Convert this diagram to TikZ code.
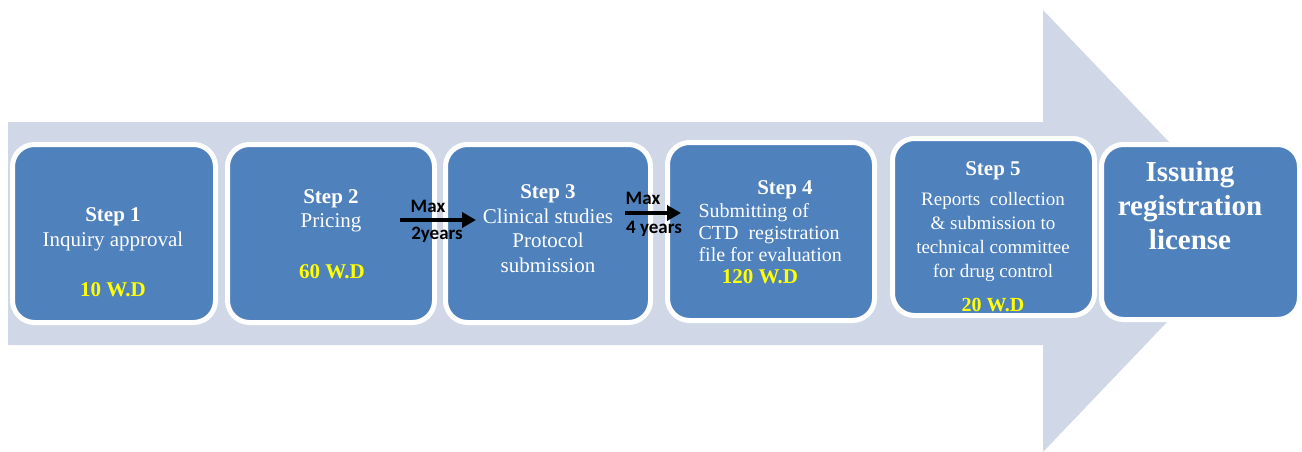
\documentclass[tikz,border=0pt]{standalone}
\usepackage{fontspec}
\setmainfont{Liberation Serif}
\newfontfamily\maxfont{Carlito}
\usetikzlibrary{arrows.meta}

\definecolor{stepblue}{HTML}{4F81BD}
\definecolor{arrowgray}{HTML}{D0D8E8}
\definecolor{wdyellow}{HTML}{FFFF00}

\tikzset{
  stepbox/.style={draw=white, line width=5pt, fill=stepblue, rounded corners=22pt,
    minimum width=#1, minimum height=178pt, inner sep=0pt, outer sep=0pt},
  steptext/.style={text=white, align=center, font=\fontsize{21}{24.5}\selectfont},
  wd/.style={text=wdyellow, font=\fontsize{21}{24}\selectfont\bfseries},
  maxlabel/.style={font=\maxfont\fontsize{19}{20}\selectfont\bfseries},
  maxarrow/.style={line width=4pt, -{Triangle[length=14pt,width=15pt]}},
}

\begin{document}
\begin{tikzpicture}[x=1pt,y=-1pt]
\useasboundingbox (0,0) rectangle (1302,452);

% big background arrow
\fill [arrowgray] (8,122) -- (1043,122) -- (1043,10) -- (1254,231)
  -- (1043,452) -- (1043,345) -- (8,345) -- cycle;

% boxes
\node [stepbox=203pt] (step1) at (114,233.5) {};
\node [stepbox=207pt] (step2) at (331,233.5) {};
\node [stepbox=205pt] (step3) at (548,233.5) {};
\node [stepbox=207pt] (step4) at (771,231.5) {};
\node [stepbox=202pt, minimum height=177pt] (step5) at (993.5,227) {};
\node [stepbox=198pt, minimum height=175pt] (issue) at (1200.5,232) {};

% Step 1
\node [steptext] (s1text) at (113,229.5) {\textbf{Step 1}\\Inquiry approval};
\node [wd] (s1wd) at (113,290) {10 W.D};

% Step 2
\node [steptext] (s2text) at (331,211) {\textbf{Step 2}\\Pricing};
\node [wd] (s2wd) at (332,272) {60 W.D};

% Step 3
\node [steptext] (s3text) at (548,228.5) {\textbf{Step 3}\\Clinical studies\\Protocol\\submission};

% Step 4
\node [steptext] (s4title) at (785,190) {\textbf{Step 4}};
\node [steptext, align=left, anchor=west, font=\fontsize{20}{22}\selectfont]
  (s4text) at (695,233) {Submitting of\\CTD~ registration\\file for evaluation};
\node [wd] (s4wd) at (760,277) {120 W.D};

% Step 5
\node [steptext] (s5title) at (993,171) {\textbf{Step 5}};
\node [steptext, font=\fontsize{19}{24}\selectfont] (s5text) at (993,237)
  {Reports~ collection\\\& submission to\\technical committee\\for drug control};
\node [wd, font=\fontsize{20}{24}\selectfont\bfseries] (s5wd) at (993,305) {20 W.D};

% last box
\node [steptext, font=\fontsize{29}{34}\selectfont\bfseries] (issuetext) at (1190,206)
  {Issuing\\registration\\license};

% max time arrows
\coordinate (max1s) at (400,220);
\coordinate (max1e) at (476,220);
\draw [maxarrow] (max1s) -- (max1e);
\node [maxlabel] (max1top) at (428,206) {Max};
\node [maxlabel] (max1bot) at (437,235) {2years};

\coordinate (max2s) at (625,213);
\coordinate (max2e) at (681,213);
\draw [maxarrow] (max2s) -- (max2e);
\node [maxlabel] (max2top) at (643,198) {Max};
\node [maxlabel] (max2bot) at (654,229) {4 years};

\end{tikzpicture}
\end{document}
